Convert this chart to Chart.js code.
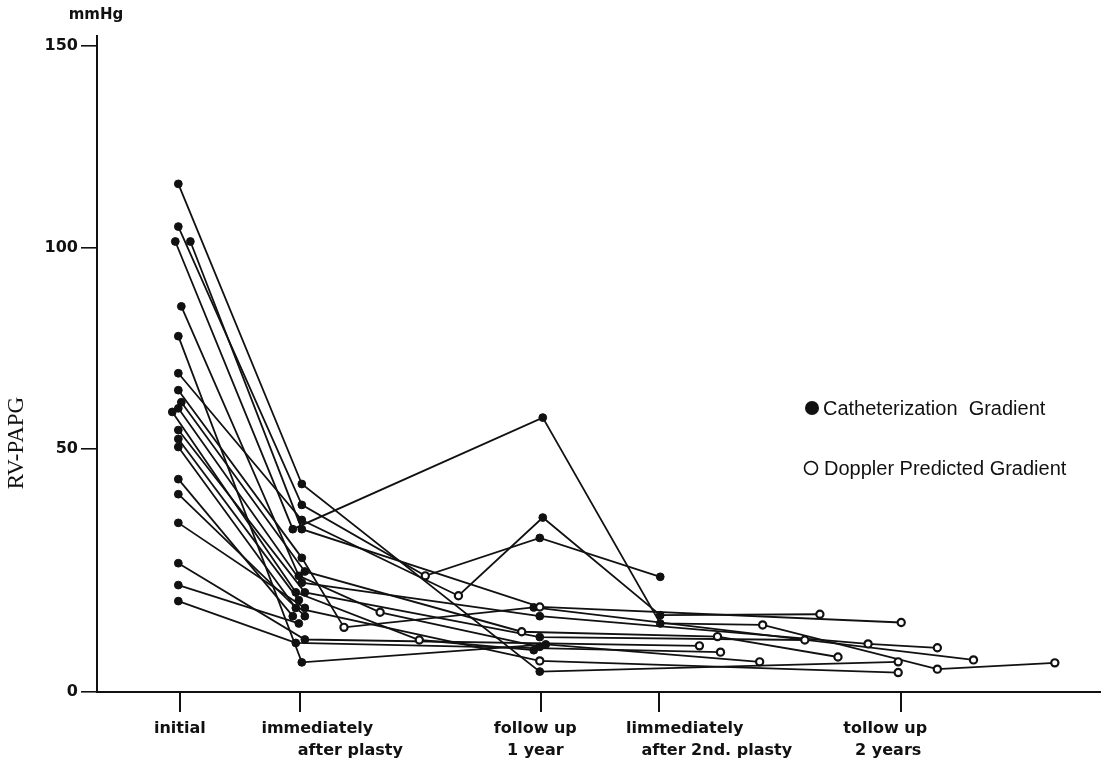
<!DOCTYPE html>
<html>
<head>
<meta charset="utf-8">
<title>RV-PAPG</title>
<script src="https://cdn.jsdelivr.net/npm/chart.js@4.4.1/dist/chart.umd.min.js"></script>
<style>
html,body{margin:0;padding:0;background:#fff;}
#rvChart{display:block;}
</style>
</head>
<body>
<canvas id="rvChart" width="1111" height="763"></canvas>
<script>
/* DATA: one array per patient, [time in months, gradient in mmHg, 'C' catheter | 'D' doppler] */
const patient01 = [[0.0,115.8,'C'],[4.1,42.8,'C'],[12.0,4.2,'C'],[23.9,6.2,'D']];
const patient02 = [[0.0,105.2,'C'],[4.1,38.5,'C'],[8.2,23.9,'D'],[12.0,31.7,'C'],[16.0,23.7,'C']];
const patient03 = [[0.0,68.8,'C'],[4.1,35.4,'C'],[9.3,19.8,'D'],[12.1,35.9,'C'],[16.0,15.8,'C'],[21.3,16.0,'D']];
const patient04 = [[-0.1,101.5,'C'],[3.8,33.5,'C'],[12.1,57.8,'C'],[16.0,14.1,'C'],[19.4,13.8,'D'],[25.2,4.7,'D'],[29.1,6.0,'D']];
const patient05 = [[0.4,101.5,'C'],[4.1,33.5,'C'],[12.0,17.5,'D'],[24.0,14.3,'D']];
const patient06 = [[0.0,64.6,'C'],[4.1,27.6,'C'],[5.5,13.3,'D'],[11.8,17.4,'C'],[26.4,6.6,'D']];
const patient07 = [[0.1,61.6,'C'],[4.2,24.8,'C'],[11.4,12.4,'D'],[17.9,11.4,'D'],[21.9,7.2,'D']];
const patient08 = [[0.1,85.4,'C'],[4.0,23.9,'C'],[6.7,16.4,'D'],[12.0,9.3,'C']];
const patient09 = [[0.0,60.1,'C'],[4.1,22.5,'C'],[12.0,15.6,'C'],[22.9,9.9,'D'],[25.2,9.1,'D']];
const patient10 = [[-0.2,59.2,'C'],[3.9,20.5,'C'],[8.0,10.7,'D'],[11.8,8.6,'C']];
const patient11 = [[0.0,54.7,'C'],[4.2,20.5,'C'],[12.0,11.3,'C'],[20.8,10.7,'D']];
const patient12 = [[0.0,52.5,'C'],[4.0,18.9,'C']];
const patient13 = [[0.0,50.5,'C'],[3.9,17.3,'C'],[12.0,6.4,'D'],[23.9,4.0,'D']];
const patient14 = [[0.0,34.8,'C'],[4.2,17.3,'C']];
const patient15 = [[0.0,43.8,'C'],[3.8,15.6,'C']];
const patient16 = [[0.0,40.7,'C'],[4.2,15.6,'C']];
const patient17 = [[0.0,22.0,'C'],[4.0,14.1,'C']];
const patient18 = [[0.0,26.5,'C'],[4.2,10.8,'C'],[17.3,9.5,'D']];
const patient19 = [[0.0,18.7,'C'],[3.9,10.1,'C'],[18.0,8.2,'D']];
const patient20 = [[0.0,78.0,'C'],[4.1,6.1,'C'],[12.2,9.8,'C'],[19.3,6.2,'D']];

const patients = [patient01,patient02,patient03,patient04,patient05,patient06,patient07,
  patient08,patient09,patient10,patient11,patient12,patient13,patient14,patient15,
  patient16,patient17,patient18,patient19,patient20];

const categoryTicks = [0.05, 4.05, 12.05, 15.95, 24.0];
const categoryLabels = [["initial"],["immediately","after plasty"],["follow up","1 year"],
  ["limmediately","after 2nd. plasty"],["tollow up","2 years"]];
const yTickValues = [0, 50, 100, 150];
const legendLabels = ["Catheterization  Gradient", "Doppler Predicted Gradient"];

/* layout only: horizontal shift of each label line from its tick */
const labelShift = [[0],[17,50],[-6,-6],[26,58],[-16,-13]];

/* the printed axis is not evenly spaced: 0-50 takes more room than 50-150 */
const yBreaks = [0, 50, 152.5];
const yFracs = [0, 243/656, 1];

function toDecimal(v){
  for(let i=1;i<yBreaks.length;i++){
    if(v<=yBreaks[i] || i===yBreaks.length-1){
      const t=(v-yBreaks[i-1])/(yBreaks[i]-yBreaks[i-1]);
      return yFracs[i-1]+t*(yFracs[i]-yFracs[i-1]);
    }
  }
}
function fromDecimal(d){
  for(let i=1;i<yFracs.length;i++){
    if(d<=yFracs[i] || i===yFracs.length-1){
      const t=(d-yFracs[i-1])/(yFracs[i]-yFracs[i-1]);
      return yBreaks[i-1]+t*(yBreaks[i]-yBreaks[i-1]);
    }
  }
}

class BrokenScale extends Chart.LinearScale {
  getPixelForValue(value){
    return value===null ? NaN : this.getPixelForDecimal(toDecimal(value));
  }
  getValueForPixel(pixel){
    return fromDecimal(this.getDecimalForPixel(pixel));
  }
}
BrokenScale.id = 'broken';
BrokenScale.defaults = Chart.LinearScale.defaults;
Chart.register(BrokenScale);

/* DATASETS */
const ink = '#111';
const lineSets = patients.map(p=>({
  data: p.map(pt=>({x:pt[0], y:pt[1]})),
  showLine: true,
  borderColor: ink,
  borderWidth: 1.8,
  pointRadius: 0,
  order: 2
}));
const cathPoints = patients.flatMap(p=>p.filter(pt=>pt[2]==='C').map(pt=>({x:pt[0],y:pt[1]})));
const dopplerPoints = patients.flatMap(p=>p.filter(pt=>pt[2]==='D').map(pt=>({x:pt[0],y:pt[1]})));

/* TEXT */
const textPlugin = {
  id: 'textPlugin',
  afterDraw(chart){
    const c = chart.ctx;
    const xs = chart.scales.x;
    c.save();
    c.fillStyle = ink;
    c.textBaseline = 'middle';

    c.font = 'bold 15px "DejaVu Sans"';
    c.textAlign = 'center';
    c.fillText('mmHg', 96, 15);

    c.font = 'bold 16px "DejaVu Sans"';
    categoryLabels.forEach((lines,i)=>{
      const px = xs.getPixelForValue(categoryTicks[i]);
      lines.forEach((txt,j)=>{
        c.fillText(txt, px + labelShift[i][j], 729 + j*22);
      });
    });

    c.save();
    c.translate(17, 443);
    c.rotate(-Math.PI/2);
    c.font = '23px "Liberation Serif"';
    c.fillText('RV-PAPG', 0, 0);
    c.restore();

    c.beginPath();
    c.arc(812, 408, 7, 0, Math.PI*2);
    c.fill();
    c.beginPath();
    c.arc(811, 468, 6.5, 0, Math.PI*2);
    c.lineWidth = 1.6;
    c.strokeStyle = ink;
    c.stroke();
    c.font = '20px "Liberation Sans"';
    c.textAlign = 'left';
    c.fillText(legendLabels[0], 823, 409);
    c.fillText(legendLabels[1], 824, 469);
    c.restore();
  }
};

new Chart(document.getElementById('rvChart'), {
  type: 'scatter',
  data: {
    datasets: [
      ...lineSets,
      {data: cathPoints, showLine:false, pointRadius:3.9, pointBackgroundColor:ink,
       pointBorderColor:ink, pointBorderWidth:1, order:1},
      {data: dopplerPoints, showLine:false, pointRadius:3.6, pointBackgroundColor:'#fff',
       pointBorderColor:ink, pointBorderWidth:2.2, order:0}
    ]
  },
  options: {
    responsive: false,
    animation: false,
    layout: {padding:{top:36, right:11, left:0, bottom:0}},
    elements: {line:{tension:0}},
    plugins: {legend:{display:false}, tooltip:{enabled:false}},
    scales: {
      x: {
        type: 'linear', min: -2.7, max: 30.6,
        afterBuildTicks: s=>{ s.ticks = categoryTicks.map(v=>({value:v})); },
        afterFit: s=>{ s.height = 71; },
        grid: {drawOnChartArea:false, tickLength:20, color:ink, lineWidth:2},
        border: {color:ink, width:2},
        ticks: {display:false}
      },
      y: {
        type: 'broken', min: 0, max: 152.5,
        afterBuildTicks: s=>{ s.ticks = yTickValues.map(v=>({value:v})); },
        afterFit: s=>{ s.width = 97; },
        grid: {drawOnChartArea:false, tickLength:16, color:ink, lineWidth:1.6},
        border: {color:ink, width:2},
        ticks: {color:ink, padding:3, font:{family:'"DejaVu Sans"', size:16, weight:'bold'}}
      }
    }
  },
  plugins: [textPlugin]
});
</script>
</body>
</html>
